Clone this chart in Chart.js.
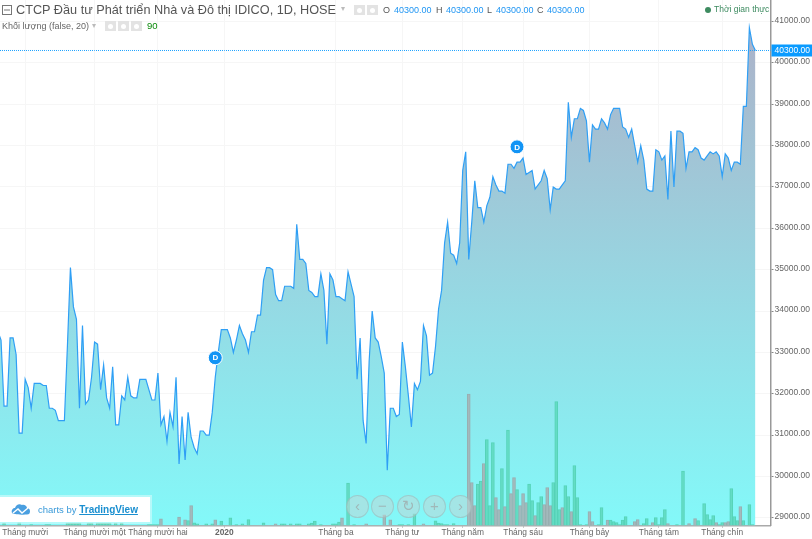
<!DOCTYPE html>
<html lang="vi">
<head>
<meta charset="utf-8">
<title>CTCP Đầu tư Phát triển Nhà và Đô thị IDICO</title>
<script src="https://cdn.jsdelivr.net/npm/chart.js@4"></script>
<style>
    html, body { margin: 0; padding: 0; background: #fff; overflow: hidden; }
    body { width: 812px; height: 539px; position: relative; font-family: "Liberation Sans", Arial, sans-serif; }
    #chart { position: absolute; left: -2px; top: 0; }
    .txt { position: absolute; white-space: nowrap; line-height: 12px; }
    .val { color: #2196f3; font-size: 9px; top: 4px; }
    .key { color: #555; font-size: 9px; top: 4px; }
    .ico { position: absolute; background: #e3e3e3; width: 11px; height: 10px; }
    .ico::after { content: ""; position: absolute; left: 3px; top: 2.5px; width: 5px; height: 5px; border-radius: 50%; background: #fff; }
    .btn { position: absolute; top: 495px; width: 21px; height: 21px; border-radius: 50%; border: 1px solid rgba(140,160,160,.35);
           background: rgba(190,215,215,.55); color: #a0b8b8; font-size: 15px; line-height: 20px; text-align: center; }
</style>
</head>
<body>
<canvas id="chart" width="814" height="539"></canvas>

<svg style="position:absolute;left:2px;top:5px" width="10" height="10"><rect x=".5" y=".5" width="9" height="9" fill="none" stroke="#777"/><path d="M2 5h6" stroke="#777"/></svg>
<div class="txt" style="left:16px;top:3px;font-size:12.7px;line-height:14px;color:#555">CTCP Đầu tư Phát triển Nhà và Đô thị IDICO, 1D, HOSE</div>
<div class="txt" style="left:341px;top:3px;font-size:8px;color:#bbb">▾</div>
<div class="ico" style="left:354px;top:5px"></div>
<div class="ico" style="left:367px;top:5px"></div>
<div class="txt key" style="left:383px">O</div><div class="txt val" style="left:394px">40300.00</div>
<div class="txt key" style="left:436px">H</div><div class="txt val" style="left:446px">40300.00</div>
<div class="txt key" style="left:487px">L</div><div class="txt val" style="left:496px">40300.00</div>
<div class="txt key" style="left:537px">C</div><div class="txt val" style="left:547px">40300.00</div>
<div style="position:absolute;left:705px;top:7px;width:6px;height:6px;border-radius:50%;background:#3d8b60"></div>
<div class="txt" style="left:714px;top:3px;font-size:8.5px;color:#3d8b60">Thời gian thực</div>

<div class="txt" style="left:2px;top:20px;font-size:9px;color:#666">Khối lượng (false, 20)</div>
<div class="txt" style="left:92px;top:20px;font-size:8px;color:#bbb">▾</div>
<div class="ico" style="left:105px;top:21px"></div>
<div class="ico" style="left:118px;top:21px"></div>
<div class="ico" style="left:131px;top:21px"></div>
<div class="txt" style="left:147px;top:20px;font-size:9.5px;color:#0a8a0a">90</div>

<div style="position:absolute;left:0;top:497px;width:150px;height:25px;background:#fff;box-shadow:0 0 0 2px rgba(255,255,255,.4)"></div>
<svg style="position:absolute;left:11px;top:503px" width="20" height="13"><path d="M1 10c-1-3 1-5 3-5 1-3 4-5 7-3 2-1 5 1 5 3 3 0 4 4 2 6-1 1-14 1-17-1z" fill="#4a9fe0"/><path d="M2 10l5-4 4 4 6-5" fill="none" stroke="#fff" stroke-width="1.4"/></svg>
<div class="txt" style="left:38px;top:504px;font-size:9.5px;color:#3a9ad9">charts by <b style="text-decoration:underline;color:#1a8fd0;font-size:10px">TradingView</b></div>

<div class="btn" style="left:346px">‹</div>
<div class="btn" style="left:371px">−</div>
<div class="btn" style="left:397px">↻</div>
<div class="btn" style="left:423px">+</div>
<div class="btn" style="left:449px">›</div>

<script>
// Daily close, one value per session
const prices = [
    33500, 33300, 31700, 31700, 33350, 33350, 32950, 31050, 31050, 32350,
    32150, 31650, 32250, 32250, 32250, 32200, 32200, 31650, 31650, 31600,
    31350, 31350, 31350, 33150, 35050, 34100, 33800, 31650, 33650, 31750,
    31850, 32400, 33250, 33200, 32100, 32700, 31900, 31650, 32650, 31250,
    31250, 31950, 31850, 32400, 31950, 31900, 31900, 32350, 32350, 32350,
    32100, 31850, 31850, 32500, 31250, 31450, 30850, 31550, 31200, 32400,
    30300, 31450, 30400, 31550, 30950, 30700, 30550, 31100, 31100, 31000,
    31000, 31550, 32400, 33000, 33550, 33550, 33550, 33350, 33000, 33300,
    33650, 33450, 33300, 33000, 33500, 33500, 33900, 33900, 34750, 35050,
    35050, 35000, 34400, 34250, 34250, 34600, 34600, 34600, 34550, 36100,
    35250, 35250, 35150, 34500, 34450, 34350, 34350, 34900, 34500, 33200,
    34900, 34750, 34350, 34350, 34300, 34250, 34950, 34650, 34350, 32350,
    33350, 31350, 30800, 32800, 34000, 33350, 33250, 32900, 32500, 30150,
    31650, 31650, 31450, 31500, 33250, 32650, 31950, 31200, 32250, 32100,
    32300, 33650, 33400, 32450, 32500, 33150, 34050, 34500, 35650, 36150,
    35400, 35350, 35150, 35650, 37400, 37850, 35250, 36150, 37150, 36500,
    36500, 36150, 36550, 36750, 37250, 37050, 36900, 36900, 36850, 37550,
    37550, 37450, 37600, 37600, 37700, 37300, 37350, 37400, 36950, 37050,
    37150, 37400, 37200, 36450, 37000, 36950, 36950, 37050, 37150, 39050,
    38200, 38650, 38650, 38900, 38850, 38600, 37600, 38500, 38400, 38400,
    38650, 38550, 38400, 38750, 38900, 38900, 38900, 38450, 38400, 38200,
    38400, 38000, 37600, 38000, 37650, 36950, 36900, 36900, 37900, 37850,
    37650, 37750, 36700, 38350, 37000, 38350, 38350, 38300, 37450, 37850,
    37850, 37950, 37900, 37700, 37650, 37750, 37850, 37800, 37850, 37750,
    37250, 37800, 37700, 37400, 37600, 37600, 37550, 38950, 38950, 40850,
    40450, 40300
];

const volumes = [
    0, 0, 7, 0, 0, 0, 0, 8, 0, 0,
    0, 3, 0, 0, 0, 0, 3, 3, 0, 0,
    0, 0, 0, 7, 7, 7, 7, 7, 0, 0,
    7, 7, 0, 7, 7, 7, 7, 7, 0, 7,
    0, 7, 0, 0, 0, 0, 0, 0, 0, 0,
    3, 3, 3, 3, 20, 0, 0, 0, 0, 0,
    25, 0, 17, 15, 60, 8, 5, 0, 0, 5,
    0, 5, 17, 0, 13, 0, 0, 23, 0, 3,
    0, 5, 0, 18, 0, 0, 0, 0, 8, 0,
    0, 0, 5, 0, 5, 5, 0, 5, 0, 5,
    5, 0, 0, 5, 7, 13, 0, 3, 0, 0,
    0, 5, 5, 10, 23, 0, 127, 0, 3, 0,
    0, 0, 5, 0, 0, 0, 0, 0, 32, 0,
    17, 0, 0, 3, 3, 0, 3, 0, 35, 0,
    0, 5, 0, 0, 0, 14, 7, 6, 3, 3,
    0, 6, 0, 0, 0, 0, 394, 129, 60,
    124, 133, 186, 258, 60, 249, 84, 48, 171, 57,
    286, 96, 144, 108, 60, 96, 69, 124, 75, 30,
    69, 87, 63, 114, 60, 129, 372, 48, 54, 120,
    87, 42, 180, 84, 3, 0, 3, 42, 12, 0,
    3, 54, 0, 16, 16, 12, 9, 3, 16, 27,
    0, 0, 12, 18, 0, 6, 21, 0, 9, 24,
    3, 24, 48, 6, 0, 0, 3, 0, 163, 0,
    6, 0, 21, 15, 0, 66, 33, 18, 30, 9,
    3, 9, 9, 12, 111, 27, 15, 57, 15, 0,
    63, 3
];

// Sessions whose volume bar is the "down" colour
const downDays = [54, 60, 62, 64, 72, 92, 114, 122, 128, 130, 141, 156, 157, 158, 161, 165, 166, 168, 170, 171, 173, 174, 175,
    178, 181, 182, 183, 187, 190, 196, 197, 202, 211, 212, 217, 222, 229, 231, 238, 241, 242, 246];

const monthDays = [9, 32, 53, 75, 112, 134, 154, 174, 196, 219, 240];
const monthLabels = ['Tháng mười', 'Tháng mười một', 'Tháng mười hai', '2020', 'Tháng ba', 'Tháng tư', 'Tháng năm', 'Tháng sáu', 'Tháng bảy', 'Tháng tám', 'Tháng chín'];
const priceTicks = [29000, 30000, 31000, 32000, 33000, 34000, 35000, 36000, 37000, 38000, 39000, 40000, 41000];

const dividendDays = [72, 172];
const dividendPrices = [32870, 37970];
const lastPrice = 40300;
const sessionSlots = 257;

const labels = Array.from({ length: sessionSlots }, (_, i) => i);

function areaGradient(context) {
    const area = context.chart.chartArea;
    if (!area) return '#98d5e1';
    const g = context.chart.ctx.createLinearGradient(0, 28, 0, area.bottom);
    g.addColorStop(0, '#acb2c9');
    g.addColorStop(1, '#83f9f9');
    return g;
}

// Price tag on the axis and the letters inside the dividend markers
const overlayPlugin = {
    id: 'overlay',
    afterDraw(chart) {
        const ctx = chart.ctx;
        const y = chart.scales.y.getPixelForValue(lastPrice);
        ctx.save();
        ctx.fillStyle = '#0a9bff';
        ctx.fillRect(chart.chartArea.right + 1, y - 6, 41, 12);
        ctx.fillStyle = '#fff';
        ctx.font = '8.5px "Liberation Sans"';
        ctx.textAlign = 'left';
        ctx.textBaseline = 'middle';
        ctx.fillText(lastPrice.toFixed(2), chart.chartArea.right + 4, y);

        ctx.font = 'bold 8px "Liberation Sans"';
        ctx.textAlign = 'center';
        dividendDays.forEach((day, i) => {
            ctx.fillText('D', chart.scales.x.getPixelForValue(day), chart.scales.y.getPixelForValue(dividendPrices[i]) + 0.5);
        });
        ctx.restore();
    }
};

new Chart(document.getElementById('chart').getContext('2d'), {
    type: 'line',
    data: {
        labels: labels,
        datasets: [{
            type: 'line',
            data: prices,
            borderColor: '#2f9ff5',
            borderWidth: 1.2,
            backgroundColor: areaGradient,
            fill: 'origin',
            tension: 0,
            pointRadius: 0,
            order: 3
        }, {
            type: 'bar',
            data: volumes,
            yAxisID: 'vol',
            backgroundColor: volumes.map((_, i) => downDays.includes(i) ? '#a3b9bc' : '#64dcc4'),
            borderColor: volumes.map((_, i) => downDays.includes(i) ? '#98aeb0' : '#55d3b7'),
            borderWidth: 1,
            barThickness: 3,
            order: 2
        }, {
            type: 'line',
            data: labels.map(() => lastPrice),
            borderColor: '#1aa0ff',
            borderWidth: 1,
            borderDash: [1, 1],
            pointRadius: 0,
            fill: false,
            order: 1
        }, {
            type: 'line',
            data: labels.map(i => dividendDays.includes(i) ? dividendPrices[dividendDays.indexOf(i)] : null),
            showLine: false,
            pointRadius: 7,
            pointBackgroundColor: '#1294f5',
            pointBorderColor: '#fff',
            pointBorderWidth: 1,
            order: 0
        }]
    },
    options: {
        responsive: false,
        animation: false,
        events: [],
        layout: { padding: 0, autoPadding: false },
        plugins: { legend: { display: false }, tooltip: { enabled: false } },
        scales: {
            x: {
                type: 'category',
                offset: false,
                grid: { offset: false, color: '#f6f6f6', tickColor: '#999', tickLength: 2 },
                border: { color: '#aaa', width: 1.5 },
                afterBuildTicks: scale => { scale.ticks = monthDays.map(d => ({ value: d })); },
                afterFit: scale => {
                    scale.height = 13.5;
                    scale.paddingLeft = 0;
                    scale.paddingRight = 0;
                },
                ticks: {
                    autoSkip: false,
                    maxRotation: 0,
                    padding: 0,
                    color: '#666',
                    font: ctx => ({ family: '"Liberation Sans"', size: 8.4, weight: ctx.tick && ctx.tick.label === '2020' ? 'bold' : 'normal' }),
                    callback: value => monthLabels[monthDays.indexOf(value)]
                }
            },
            y: {
                position: 'right',
                min: 28815,
                max: 41521,
                grid: { color: '#f6f6f6', tickColor: '#888', tickLength: 3 },
                border: { color: '#999', width: 1.5 },
                afterBuildTicks: scale => { scale.ticks = priceTicks.map(v => ({ value: v })); },
                afterFit: scale => {
                    scale.width = 41.5;
                    scale.paddingTop = 0;
                    scale.paddingBottom = 0;
                },
                ticks: {
                    padding: 1,
                    labelOffset: -1,
                    color: '#666',
                    font: { family: '"Liberation Sans"', size: 8.5 },
                    callback: value => value.toFixed(2)
                }
            },
            vol: {
                display: false,
                min: 0,
                max: 1576
            }
        }
    },
    plugins: [overlayPlugin]
});
</script>
</body>
</html>
